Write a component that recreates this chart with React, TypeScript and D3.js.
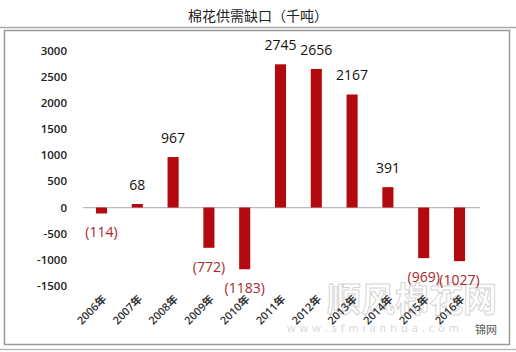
import React, { useEffect, useRef } from 'react';
import * as d3 from 'd3';

const years = ['2006年', '2007年', '2008年', '2009年', '2010年', '2011年', '2012年', '2013年', '2014年', '2015年', '2016年'];
const gap = [-114, 68, 967, -772, -1183, 2745, 2656, 2167, 391, -969, -1027];
const yTicks = [3000, 2500, 2000, 1500, 1000, 500, 0, -500, -1000, -1500];

export default function App() {
  const ref = useRef<SVGSVGElement>(null);

  useEffect(() => {
    const svg = d3.select(ref.current);
    svg.selectAll('*').remove();

    const W = 516, H = 352;
    const font = '"Open Sans", "Noto Sans CJK SC", sans-serif';

    svg.append('rect').attr('width', W).attr('height', H).attr('fill', '#fff');

    // title and frame
    svg.append('text')
      .attr('x', 258).attr('y', 21)
      .attr('text-anchor', 'middle')
      .style('font-family', '"Noto Sans CJK SC", sans-serif')
      .style('font-size', '14px')
      .attr('fill', '#222')
      .text('棉花供需缺口（千吨）');
    svg.append('line').attr('x1', 0).attr('x2', W).attr('y1', 27.5).attr('y2', 27.5)
      .attr('stroke', '#aaa').attr('stroke-width', 1.5);
    svg.append('rect').attr('x', 4.5).attr('y', 30.5).attr('width', 505).attr('height', 314)
      .attr('fill', 'none').attr('stroke', '#999').attr('stroke-width', 1.5);
    svg.append('line').attr('x1', 0).attr('x2', W).attr('y1', 349.5).attr('y2', 349.5)
      .attr('stroke', '#bbb').attr('stroke-width', 1.5);

    const x = d3.scaleBand().domain(years).range([83.6, 477.4]).paddingInner(0.69).paddingOuter(0.345);
    const y = d3.scaleLinear().domain([-1500, 3000]).range([285.8, 51]);

    // watermark
    svg.append('text')
      .attr('x', 412).attr('y', 312)
      .attr('text-anchor', 'middle')
      .style('font-family', '"Noto Sans CJK SC", sans-serif')
      .style('font-size', '34px').style('font-weight', 700)
      .attr('fill', '#fff')
      .attr('stroke', '#d6d6d6').attr('stroke-width', 1)
      .text('顺风棉花网');
    svg.append('text')
      .attr('x', 375).attr('y', 332)
      .attr('text-anchor', 'middle')
      .style('font-family', font).style('font-size', '11px').style('letter-spacing', '4px')
      .attr('fill', '#d6d6d6')
      .text('www.sfmianhua.com');
    svg.append('text')
      .attr('x', 497).attr('y', 334)
      .attr('text-anchor', 'end')
      .style('font-family', '"Noto Sans CJK SC", sans-serif').style('font-size', '11px')
      .attr('fill', '#555')
      .text('锦网');

    // y axis labels
    svg.append('g').selectAll('text')
      .data(yTicks).join('text')
      .attr('x', 67).attr('y', d => y(d)).attr('dy', '0.35em')
      .attr('text-anchor', 'end')
      .style('font-family', font).style('font-size', '11.5px').style('font-weight', 600)
      .attr('fill', '#222')
      .text(d => d);

    // zero line
    svg.append('line')
      .attr('x1', 83).attr('x2', 480).attr('y1', y(0)).attr('y2', y(0))
      .attr('stroke', '#bbb').attr('stroke-width', 1.2);

    const color = '#b30a10';
    svg.append('g').selectAll('rect')
      .data(gap).join('rect')
      .attr('x', (d, i) => x(years[i])!)
      .attr('width', x.bandwidth())
      .attr('y', d => y(Math.max(0, d)))
      .attr('height', d => Math.abs(y(d) - y(0)))
      .attr('fill', color);

    // value labels
    svg.append('g').selectAll('text')
      .data(gap).join('text')
      .attr('x', (d, i) => x(years[i])! + x.bandwidth() / 2)
      .attr('y', d => d >= 0 ? y(d) - 19 : y(d) + 19)
      .attr('dy', '0.35em')
      .attr('text-anchor', 'middle')
      .style('font-family', font).style('font-size', '14px')
      .attr('fill', d => d >= 0 ? '#111' : '#a8262c')
      .text(d => d >= 0 ? `${d}` : `(${-d})`);

    // x labels
    svg.append('g').selectAll('text')
      .data(years).join('text')
      .attr('transform', d => `translate(${x(d)! + x.bandwidth() / 2 + 3},${297}) rotate(-45)`)
      .attr('text-anchor', 'end')
      .attr('dy', '0.35em')
      .style('font-family', font).style('font-size', '11px').style('font-weight', 600)
      .attr('fill', '#333')
      .text(d => d);
  }, []);

  return (
    <svg ref={ref} width={516} height={352} style={{ position: 'absolute', left: 0, top: 0 }} />
  );
}
